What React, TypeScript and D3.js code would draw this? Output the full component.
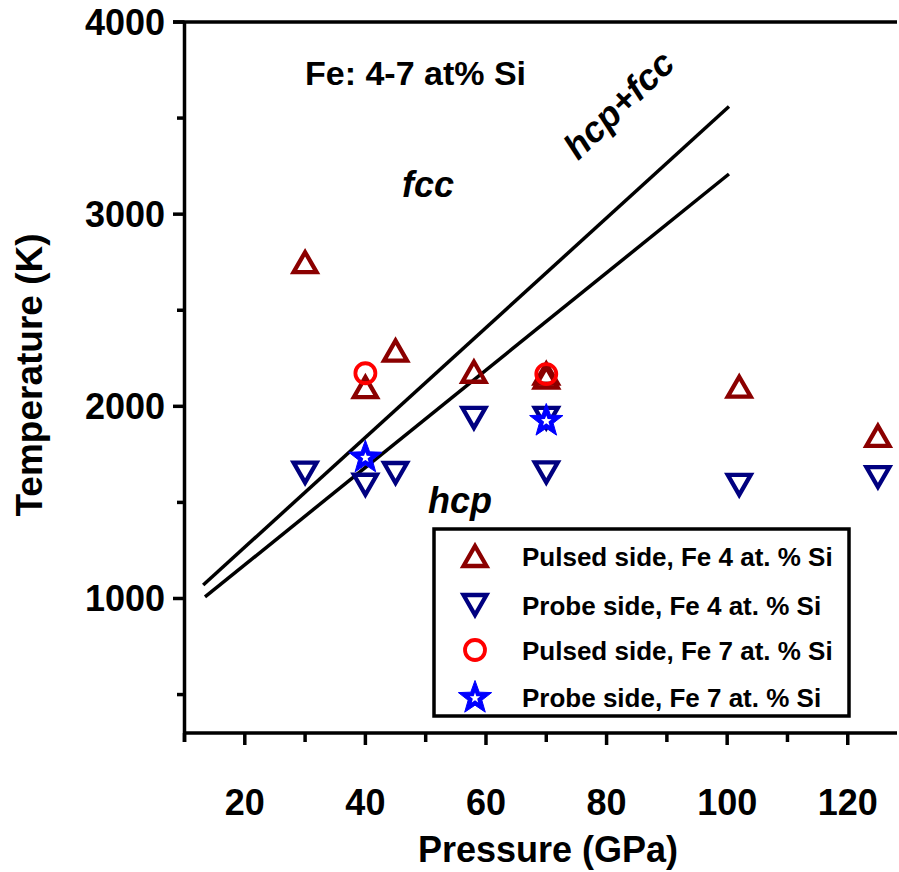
import React from "react";
import * as d3 from "d3";

// ---- Data ----
const pulsed4P = [30, 40, 45, 58, 70, 70, 102, 125];
const pulsed4T = [2750, 2100, 2290, 2180, 2170, 2150, 2102, 1846];
const probe4P = [30, 40, 45, 58, 70, 70, 102, 125];
const probe4T = [1655, 1592, 1653, 1940, 1940, 1656, 1591, 1632];
const pulsed7P = [40, 70];
const pulsed7T = [2172, 2168];
const probe7P = [40, 70];
const probe7T = [1738, 1929];
const upperLineP = [13.1, 100.3];
const upperLineT = [1070, 3560];
const lowerLineP = [13.4, 100.3];
const lowerLineT = [1008, 3209];
const xTickLabels = [20, 40, 60, 80, 100, 120];
const xMinorTicks = [10, 30, 50, 70, 90, 110];
const yTickLabels = [1000, 2000, 3000, 4000];
const yMinorTicks = [500, 1500, 2500, 3500];
const legendLabels = [
  "Pulsed side, Fe 4 at. % Si",
  "Probe side, Fe 4 at. % Si",
  "Pulsed side, Fe 7 at. % Si",
  "Probe side, Fe 7 at. % Si",
];

const FONT = "'Liberation Sans', Arial, Helvetica, sans-serif";
const DARKRED = "#8b0000";
const NAVY = "#000080";
const RED = "#ff0000";
const BLUE = "#0000ff";

const x = d3.scaleLinear().domain([10, 128]).range([184.5, 896]);
const y = d3.scaleLinear().domain([300, 4000]).range([733, 22]);

function triUp(cx: number, cy: number, key: string) {
  const w = 11.5, h = 10;
  const d = `M${cx},${cy - h}L${cx + w},${cy + h}L${cx - w},${cy + h}Z`;
  return <path key={key} d={d} fill="none" stroke={DARKRED} strokeWidth={4.3} strokeLinejoin="miter" />;
}
function triDown(cx: number, cy: number, key: string) {
  const w = 11.5, h = 10;
  const d = `M${cx},${cy + h}L${cx + w},${cy - h}L${cx - w},${cy - h}Z`;
  return <path key={key} d={d} fill="none" stroke={NAVY} strokeWidth={4.3} strokeLinejoin="miter" />;
}
function circ(cx: number, cy: number, key: string) {
  return <circle key={key} cx={cx} cy={cy} r={10} fill="none" stroke={RED} strokeWidth={3.8} />;
}
function starPath(cx: number, cy: number, R: number, r: number) {
  const pts: [number, number][] = [];
  for (let i = 0; i < 10; i++) {
    const a = -Math.PI / 2 + (i * Math.PI) / 5;
    const rad = i % 2 === 0 ? R : r;
    pts.push([cx + rad * Math.cos(a), cy + rad * Math.sin(a)]);
  }
  return d3.line()(pts) + "Z";
}
function star(cx: number, cy: number, key: string) {
  return (
    <g key={key}>
      <path d={starPath(cx, cy + 1, 17.5, 7.2)} fill={BLUE} stroke={BLUE} strokeWidth={1} />
      <path d={starPath(cx, cy + 1, 5.5, 2.3)} fill="#fff" />
    </g>
  );
}

export default function App() {
  const line = d3.line<[number, number]>().x((d) => x(d[0])).y((d) => y(d[1]));
  const upper: [number, number][] = upperLineP.map((p, i) => [p, upperLineT[i]]);
  const lower: [number, number][] = lowerLineP.map((p, i) => [p, lowerLineT[i]]);

  const legendRowsY = [556, 605, 650, 697];
  const legendMarkers = [
    (cx: number, cy: number) => triUp(cx, cy, "lg0"),
    (cx: number, cy: number) => triDown(cx, cy, "lg1"),
    (cx: number, cy: number) => circ(cx, cy, "lg2"),
    (cx: number, cy: number) => star(cx, cy, "lg3"),
  ];

  return (
    <svg
      width={899}
      height={872}
      style={{ position: "absolute", left: 0, top: 0, background: "#fff" }}
      fontFamily={FONT}
      fontWeight="bold"
    >
      <rect width={899} height={872} fill="#fff" />
      {/* phase boundary lines */}
      <path d={line(upper) || ""} fill="none" stroke="#000" strokeWidth={3.5} />
      <path d={line(lower) || ""} fill="none" stroke="#000" strokeWidth={3.5} />

      {/* data */}
      {probe4P.map((p, i) => triDown(x(p), y(probe4T[i]), "pr4" + i))}
      {pulsed4P.map((p, i) => triUp(x(p), y(pulsed4T[i]), "pu4" + i))}
      {pulsed7P.map((p, i) => circ(x(p), y(pulsed7T[i]), "pu7" + i))}
      {probe7P.map((p, i) => star(x(p), y(probe7T[i]), "pr7" + i))}

      {/* axes */}
      <line x1={173} x2={897} y1={y(4000)} y2={y(4000)} stroke="#000" strokeWidth={3.5} />
      <line x1={x(10)} x2={x(10)} y1={y(4000)} y2={y(300) + 9} stroke="#000" strokeWidth={3.5} />
      <line x1={x(10)} x2={897} y1={y(300)} y2={y(300)} stroke="#000" strokeWidth={3.5} />
      {xTickLabels.map((t) => (
        <g key={"xt" + t}>
          <line x1={x(t)} x2={x(t)} y1={y(300)} y2={y(300) + 12} stroke="#000" strokeWidth={3.5} />
          <text x={x(t)} y={815} textAnchor="middle" fontSize={36}>
            {t}
          </text>
        </g>
      ))}
      {xMinorTicks.map((t) => (
        <line key={"xm" + t} x1={x(t)} x2={x(t)} y1={y(300)} y2={y(300) + 9} stroke="#000" strokeWidth={3.5} />
      ))}
      {yTickLabels.map((t) => (
        <g key={"yt" + t}>
          <line x1={173} x2={x(10)} y1={y(t)} y2={y(t)} stroke="#000" strokeWidth={3.5} />
          <text x={165} y={y(t) + 13} textAnchor="end" fontSize={36}>
            {t}
          </text>
        </g>
      ))}
      {yMinorTicks.map((t) => (
        <line key={"ym" + t} x1={177} x2={x(10)} y1={y(t)} y2={y(t)} stroke="#000" strokeWidth={3.5} />
      ))}

      {/* axis titles */}
      <text x={548} y={862} textAnchor="middle" fontSize={36}>
        Pressure (GPa)
      </text>
      <text transform="translate(42,375) rotate(-90)" textAnchor="middle" fontSize={37}>
        Temperature (K)
      </text>

      {/* annotations */}
      <text x={305} y={85} fontSize={34}>
        Fe: 4-7 at% Si
      </text>
      <text x={402} y={197} fontSize={36} fontStyle="italic">
        fcc
      </text>
      <text x={428} y={513} fontSize={36} fontStyle="italic">
        hcp
      </text>
      <text transform="translate(619,105) rotate(-44)" textAnchor="middle" dy={12} fontSize={36} fontStyle="italic">
        hcp+fcc
      </text>

      {/* legend */}
      <rect x={434} y={529} width={415} height={187} fill="#fff" stroke="#000" strokeWidth={3.5} />
      {legendLabels.map((l, i) => (
        <g key={"lg" + i}>
          {legendMarkers[i](475, legendRowsY[i])}
          <text x={522} y={legendRowsY[i] + 10} fontSize={26}>
            {l}
          </text>
        </g>
      ))}
    </svg>
  );
}
